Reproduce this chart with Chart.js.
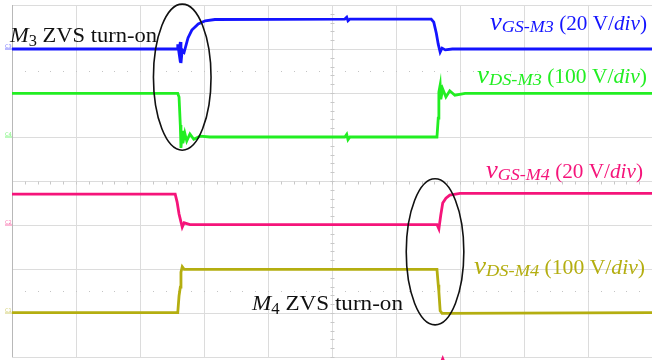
<!DOCTYPE html>
<html>
<head>
<meta charset="utf-8">
<script src="https://cdn.jsdelivr.net/npm/chart.js@4.4.1/dist/chart.umd.min.js"></script>
<style>
  html, body { margin: 0; padding: 0; background: #fff; }
  canvas { display: block; }
</style>
</head>
<body>
<canvas id="scope" width="652" height="360"></canvas>
<script>
// time in divisions (10 div across), level in divisions (8 div high)
const blueT = [0, 2.58, 2.59, 2.61, 2.63, 2.64, 2.66, 2.69, 2.75, 2.81, 2.91, 3.02, 3.17, 5.20, 5.23, 5.25, 5.28, 6.55, 6.59, 6.63, 6.66, 6.69, 6.72, 6.77, 6.88, 10];
const blueV = [7.00, 7.00, 7.11, 6.91, 7.16, 6.68, 6.98, 6.93, 7.25, 7.43, 7.57, 7.64, 7.67, 7.68, 7.72, 7.64, 7.68, 7.68, 7.61, 7.36, 7.11, 6.93, 7.02, 6.98, 7.00, 7.00];

const greenT = [0, 2.59, 2.61, 2.63, 2.64, 2.66, 2.67, 2.70, 2.73, 2.78, 2.84, 2.94, 3.09, 5.20, 5.23, 5.25, 5.28, 6.64, 6.66, 6.67, 6.69, 6.70, 6.73, 6.78, 6.84, 6.92, 7.08, 10];
const greenV = [5.99, 5.99, 5.91, 5.27, 4.75, 5.14, 4.86, 5.09, 4.91, 5.07, 4.95, 5.02, 5.00, 5.00, 5.06, 4.94, 5.00, 5.00, 5.43, 6.02, 6.18, 5.86, 6.09, 5.91, 6.05, 5.95, 5.99, 5.99];

const pinkT = [0, 2.55, 2.58, 2.61, 2.64, 2.66, 2.69, 2.78, 6.64, 6.67, 6.70, 6.73, 6.78, 6.84, 7.00, 10];
const pinkV = [3.70, 3.70, 3.52, 3.25, 3.07, 2.95, 3.05, 3.01, 3.01, 2.91, 3.23, 3.50, 3.61, 3.68, 3.72, 3.72];

const oliveT = [0, 2.59, 2.61, 2.63, 2.64, 2.66, 2.69, 6.64, 6.66, 6.67, 6.69, 6.72, 10];
const oliveV = [1.01, 1.01, 1.39, 1.59, 1.93, 2.05, 1.99, 1.99, 1.64, 1.48, 1.05, 0.99, 1.01];

// channel reference levels (div) and names
const chanNames = ['C3', 'C4', 'C2', 'C1'];
const chanLevels = [7, 5, 3, 1];
const trigT = 6.73;

// turn-on ellipses (centre in div)
const ellipseT = [2.66, 6.61];
const ellipseV = [6.36, 2.39];

const BLUE = '#1414ff', GREEN = '#22ee22', PINK = '#f5147a', OLIVE = '#b4ae10';
const SERIF = '"Liberation Serif", "Times New Roman", serif';

function pts(t, v) { return t.map((x, i) => ({ x: x, y: v[i] })); }

function drawRich(ctx, segs, x0, x1, base, color) {
  let w = 0;
  segs.forEach(s => {
    ctx.font = (s.it ? 'italic ' : '') + s.s + 'px ' + SERIF;
    w += ctx.measureText(s.t).width;
  });
  const sx = (x1 - x0) / w;
  ctx.save();
  ctx.translate(x0, base);
  ctx.scale(sx, 1);
  ctx.fillStyle = color;
  ctx.textBaseline = 'alphabetic';
  let x = 0;
  segs.forEach(s => {
    ctx.font = (s.it ? 'italic ' : '') + s.s + 'px ' + SERIF;
    ctx.fillText(s.t, x, s.dy || 0);
    x += ctx.measureText(s.t).width;
  });
  ctx.restore();
}

function label(v, sub, scale) {
  return [
    { t: v, it: true, s: 25 },
    { t: sub, it: true, s: 17, dy: 2 },
    { t: ' (' + scale + ' V/', s: 20 },
    { t: 'div', it: true, s: 20 },
    { t: ')', s: 20 }
  ];
}

const scopeDecor = {
  id: 'scopeDecor',
  beforeDatasetsDraw(chart) {
    const { ctx, chartArea: a, scales: { x, y } } = chart;
    ctx.save();
    ctx.strokeStyle = '#c8c8c8';
    ctx.lineWidth = 1;
    // minor ticks on centre vertical axis
    const cx = Math.round(x.getPixelForValue(5)) + 0.5;
    for (let v = 0; v <= 8; v += 0.2) {
      const py = Math.round(y.getPixelForValue(v)) + 0.5;
      ctx.beginPath(); ctx.moveTo(cx - 2, py); ctx.lineTo(cx + 2, py); ctx.stroke();
    }
    // minor ticks on the middle horizontal line
    const my = Math.round(y.getPixelForValue(4)) + 0.5;
    for (let t = 0; t <= 10; t += 0.2) {
      const px = Math.round(x.getPixelForValue(t)) + 0.5;
      ctx.beginPath(); ctx.moveTo(px, my); ctx.lineTo(px, my + 3); ctx.stroke();
    }
    // dotted centre rows of each panel
    ctx.fillStyle = '#c4c4c4';
    [6.5, 1.5].forEach(v => {
      const py = Math.round(y.getPixelForValue(v));
      for (let t = 0.2; t < 10; t += 0.2) {
        ctx.fillRect(Math.round(x.getPixelForValue(t)), py, 1, 1);
      }
    });
    // left border
    ctx.strokeStyle = '#b8b8b8';
    ctx.beginPath(); ctx.moveTo(a.left + 0.5, a.top); ctx.lineTo(a.left + 0.5, a.bottom); ctx.stroke();
    ctx.restore();
  },
  afterDatasetsDraw(chart) {
    const { ctx, scales: { x, y } } = chart;
    ctx.save();
    // channel markers
    const colors = [BLUE, GREEN, PINK, OLIVE];
    ctx.font = '5px "DejaVu Sans", sans-serif';
    ctx.textBaseline = 'bottom';
    chanLevels.forEach((v, i) => {
      const py = y.getPixelForValue(v);
      ctx.globalAlpha = 0.6;
      ctx.fillStyle = colors[i];
      ctx.fillText(chanNames[i], 5, py);
      ctx.fillRect(5, py - 0.5, 7, 1);
    });
    ctx.globalAlpha = 1;
    // trigger marker
    const tx = x.getPixelForValue(trigT);
    ctx.fillStyle = PINK;
    ctx.beginPath(); ctx.moveTo(tx, 355); ctx.lineTo(tx - 2, 360); ctx.lineTo(tx + 2, 360); ctx.closePath(); ctx.fill();
    // ellipses
    ctx.strokeStyle = '#111';
    ctx.lineWidth = 1.6;
    ellipseT.forEach((t, i) => {
      const px = x.getPixelForValue(t), py = y.getPixelForValue(ellipseV[i]);
      const rx = x.getPixelForValue(t + 0.45) - px;
      const ry = py - y.getPixelForValue(ellipseV[i] + 1.66);
      ctx.beginPath(); ctx.ellipse(px, py, rx, ry, 0, 0, Math.PI * 2); ctx.stroke();
    });
    ctx.restore();
    // annotations
    drawRich(ctx, [{ t: 'M', it: true, s: 22 }, { t: '3', s: 16, dy: 4 }, { t: ' ZVS turn-on', s: 22 }], 10, 157, 42, '#111');
    drawRich(ctx, [{ t: 'M', it: true, s: 22 }, { t: '4', s: 16, dy: 4 }, { t: ' ZVS turn-on', s: 22 }], 252, 403, 310, '#111');
    drawRich(ctx, label('v', 'GS-M3', '20'), 490, 647, 30, BLUE);
    drawRich(ctx, label('v', 'DS-M3', '100'), 477, 647, 83, GREEN);
    drawRich(ctx, label('v', 'GS-M4', '20'), 486, 643, 178, PINK);
    drawRich(ctx, label('v', 'DS-M4', '100'), 474, 645, 274, OLIVE);
  }
};

function trace(t, v, color) {
  return { data: pts(t, v), borderColor: color, borderWidth: 2.8, pointRadius: 0, tension: 0, fill: false };
}

const gridOpts = { color: '#dcdcdc', lineWidth: 1, drawTicks: false };

new Chart(document.getElementById('scope'), {
  type: 'line',
  data: {
    datasets: [
      trace(blueT, blueV, BLUE),
      trace(greenT, greenV, GREEN),
      trace(pinkT, pinkV, PINK),
      trace(oliveT, oliveV, OLIVE)
    ]
  },
  options: {
    responsive: false,
    animation: false,
    layout: { padding: { left: 12, top: 5, right: 0, bottom: 3 } },
    plugins: { legend: { display: false }, tooltip: { enabled: false } },
    scales: {
      x: { type: 'linear', min: 0, max: 10, ticks: { display: false, stepSize: 1 }, grid: gridOpts, border: { display: false } },
      y: { type: 'linear', min: 0, max: 8, ticks: { display: false, stepSize: 1 }, grid: gridOpts, border: { display: false } }
    }
  },
  plugins: [scopeDecor]
});
</script>
</body>
</html>
